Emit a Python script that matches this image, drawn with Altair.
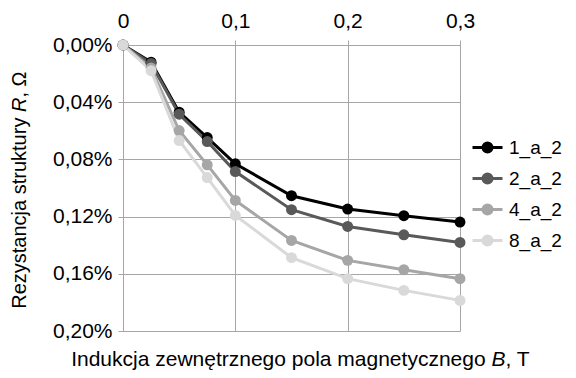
import altair as alt
import pandas as pd

B_VALUES = [0, 0.025, 0.05, 0.075, 0.1, 0.15, 0.2, 0.25, 0.3]
SERIES = ["1_a_2", "2_a_2", "4_a_2", "8_a_2"]
R_1 = [0, 0.012, 0.047, 0.0647, 0.0831, 0.1054, 0.1147, 0.1194, 0.1238]
R_2 = [0, 0.013, 0.0484, 0.0675, 0.0885, 0.1152, 0.1269, 0.1327, 0.1381]
R_4 = [0, 0.016, 0.0598, 0.0838, 0.1087, 0.1367, 0.1506, 0.1571, 0.1634]
R_8 = [0, 0.018, 0.0668, 0.0927, 0.1192, 0.1487, 0.1634, 0.1716, 0.1786]
COLORS = ["#000000", "#595959", "#a6a6a6", "#d9d9d9"]

rows = []
for name, vals in zip(SERIES, [R_1, R_2, R_4, R_8]):
    for b, r in zip(B_VALUES, vals):
        rows.append({"B": b, "R": r, "series": name})
df = pd.DataFrame(rows)

FONT = "Liberation Sans"
LEGEND_PATH = "M-1,0H1M0.3,0A0.3,0.3,0,1,1,-0.3,0A0.3,0.3,0,1,1,0.3,0Z"

x = alt.X("B:Q",
          scale=alt.Scale(domain=[0, 0.3], nice=False, zero=False),
          axis=alt.Axis(orient="top", values=[0, 0.1, 0.2, 0.3], title=None,
                        labelExpr="replace(format(datum.value, '.1~f'), '.', ',')",
                        labelFontSize=21, labelFont=FONT, labelColor="#000000",
                        labelPadding=9, tickSize=5, tickColor="#a6a6a6",
                        domainColor="#a6a6a6", gridColor="#a6a6a6",
                        labelFlush=False))
y = alt.Y("R:Q",
          scale=alt.Scale(domain=[0, 0.2], reverse=True, nice=False),
          axis=alt.Axis(values=[0, 0.04, 0.08, 0.12, 0.16, 0.2], title=None,
                        labelExpr="replace(format(datum.value, '.2f'), '.', ',') + '%'",
                        labelFontSize=21, labelFont=FONT, labelColor="#000000",
                        labelPadding=6, tickSize=5, tickColor="#a6a6a6",
                        domainColor="#a6a6a6", gridColor="#a6a6a6"))
color = alt.Color("series:N",
                  scale=alt.Scale(domain=SERIES, range=COLORS),
                  legend=alt.Legend(title=None, orient="none", legendX=348, legendY=86,
                                    symbolType=LEGEND_PATH, symbolSize=900,
                                    symbolStrokeWidth=3, labelFontSize=19,
                                    labelFont=FONT, labelColor="#000000",
                                    labelOffset=5, rowPadding=4, padding=0))

lines = alt.Chart(df).mark_line(strokeWidth=3).encode(x=x, y=y, color=color)
points = alt.Chart(df).mark_point(filled=True, size=120, opacity=1).encode(
    x=x, y=y, color=alt.Color("series:N", scale=alt.Scale(domain=SERIES, range=COLORS), legend=None))

def txt(s, xpos, ypos, align, size=21, italic=False, angle=0, baseline="alphabetic"):
    return alt.Chart(pd.DataFrame({"t": [s]})).mark_text(
        text=s, font=FONT, fontSize=size, color="#000000", align=align,
        baseline=baseline, angle=angle, fontStyle="italic" if italic else "normal"
    ).encode(x=alt.value(xpos), y=alt.value(ypos))

titles = [
    txt("Indukcja zewnętrznego pola magnetycznego", 362.6, 321, "right"),
    txt("B", 368.4, 321, "left", italic=True),
    txt(", T", 382.4, 321, "left"),
    txt("Rezystancja struktury", -103, 72.6, "right", size=20, angle=270, baseline="middle"),
    txt("R", -103, 67, "left", size=20, italic=True, angle=270, baseline="middle"),
    txt(", Ω", -103, 52.6, "left", size=20, angle=270, baseline="middle"),
]

chart = alt.layer(lines, points, *titles).properties(
    width=337, height=286,
    autosize=alt.AutoSizeParams(type="none"),
    padding={"left": 115, "top": 37, "right": 108, "bottom": 39},
).configure_view(stroke=None).configure(background="white")

chart.save("out.html", embed_options={"renderer": "svg", "actions": False})
